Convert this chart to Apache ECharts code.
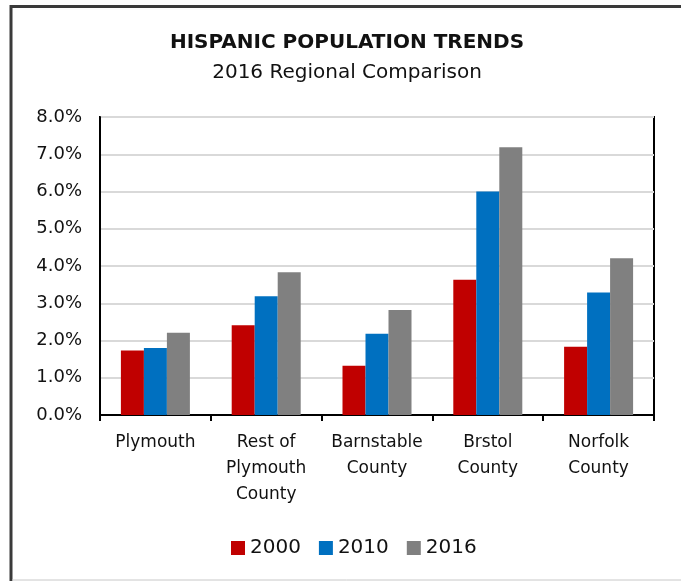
<!DOCTYPE html>
<html>
<head>
<meta charset="utf-8">
<title>Hispanic Population Trends</title>
<script src="https://cdn.jsdelivr.net/npm/echarts@6/dist/echarts.min.js"></script>
<style>
  html, body { margin: 0; padding: 0; background: #fff; }
  #chart { width: 681px; height: 581px; }
</style>
</head>
<body>
<div id="chart"></div>
<script>
// Regions compared, and Hispanic share of population (%) by census year
const regions = ['Plymouth', 'Rest of\nPlymouth\nCounty', 'Barnstable\nCounty', 'Brstol\nCounty', 'Norfolk\nCounty'];
const share2000 = [1.73, 2.41, 1.32, 3.63, 1.83];
const share2010 = [1.80, 3.19, 2.18, 6.00, 3.29];
const share2016 = [2.21, 3.83, 2.82, 7.19, 4.21];

const FONT = '"DejaVu Sans", sans-serif';
const INK = '#111';

const chart = echarts.init(document.getElementById('chart'), null, { renderer: 'canvas' });

function barSeries(name, data, color) {
  return {
    name: name,
    type: 'bar',
    data: data,
    barWidth: 23,
    barGap: '0%',
    itemStyle: { color: color },
    emphasis: { disabled: true }
  };
}

chart.setOption({
  backgroundColor: '#fff',
  animation: false,
  textStyle: { fontFamily: FONT, color: INK },
  grid: {
    left: 100, right: 27, top: 117, bottom: 166,
    show: true, borderColor: '#000', borderWidth: 2
  },
  legend: {
    left: 226, top: 533,
    itemWidth: 14, itemHeight: 14, itemGap: 18,
    icon: 'rect',
    textStyle: { fontFamily: FONT, fontSize: 20, color: INK },
    data: ['2000', '2010', '2016']
  },
  xAxis: {
    type: 'category',
    data: regions,
    axisLine: { lineStyle: { color: '#000', width: 2 } },
    axisTick: { show: true, length: 6, lineStyle: { color: '#000', width: 2 } },
    axisLabel: {
      interval: 0, margin: 15,
      fontFamily: FONT, fontSize: 17, lineHeight: 26, color: INK
    }
  },
  yAxis: {
    type: 'value',
    min: 0, max: 8, interval: 1,
    axisLine: { show: true, lineStyle: { color: '#000', width: 2 } },
    axisTick: { show: false },
    splitLine: { lineStyle: { color: '#d9d9d9', width: 2 } },
    axisLabel: {
      margin: 18, fontFamily: FONT, fontSize: 18, color: INK,
      formatter: function (v) { return v.toFixed(1) + '%'; }
    }
  },
  series: [
    barSeries('2000', share2000, '#c00000'),
    barSeries('2010', share2010, '#0070c0'),
    barSeries('2016', share2016, '#808080')
  ],
  graphic: [
    // outer frame
    { type: 'line', shape: { x1: 11, y1: 5, x2: 11, y2: 581 }, style: { stroke: '#3a3a3a', lineWidth: 3 }, silent: true },
    { type: 'line', shape: { x1: 10, y1: 6.5, x2: 681, y2: 6.5 }, style: { stroke: '#3a3a3a', lineWidth: 3 }, silent: true },
    { type: 'line', shape: { x1: 12, y1: 580, x2: 681, y2: 580 }, style: { stroke: '#c8c8c8', lineWidth: 1 }, silent: true },
    // headings
    {
      type: 'text', x: 347, y: 43, silent: true,
      style: { text: 'HISPANIC POPULATION TRENDS', align: 'center', verticalAlign: 'middle',
               font: 'bold 20px ' + FONT, fill: INK }
    },
    {
      type: 'text', x: 347, y: 73, silent: true,
      style: { text: '2016 Regional Comparison', align: 'center', verticalAlign: 'middle',
               font: '20px ' + FONT, fill: INK }
    }
  ]
});
</script>
</body>
</html>
